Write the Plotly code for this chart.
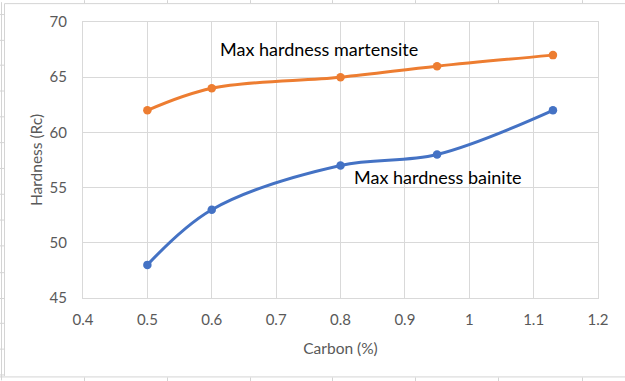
import plotly.graph_objects as go

carbon = [0.5, 0.6, 0.8, 0.95, 1.13]
martensite = [62, 64, 65, 66, 67]
bainite = [48, 53, 57, 58, 62]

x_range = [0.4, 1.2]
y_range = [45, 70]

W, H = 625, 381
L, R, T, B = 83, 27, 20, 83
pw, ph = W - L - R, H - T - B

def px(x):
    return (x - L) / pw

def py(y):
    return (H - B - y) / ph

fig = go.Figure()
fig.add_trace(go.Scatter(x=carbon, y=martensite, mode="lines+markers",
                         line=dict(color="#ED7D31", width=3, shape="spline", smoothing=1),
                         marker=dict(color="#ED7D31", size=8.5), name="martensite"))
fig.add_trace(go.Scatter(x=carbon, y=bainite, mode="lines+markers",
                         line=dict(color="#4472C4", width=3, shape="spline", smoothing=1),
                         marker=dict(color="#4472C4", size=8.5), name="bainite"))

font = "Lato, 'Open Sans', sans-serif"
grid = "#D9D9D9"

shapes = []
sheet = "#D4D4D4"
# chart border
shapes.append(dict(type="line", xref="paper", yref="paper", x0=px(4.5), x1=px(W + 5), y0=py(1.5), y1=py(1.5), line=dict(color=sheet, width=1)))
shapes.append(dict(type="line", xref="paper", yref="paper", x0=px(4.5), x1=px(4.5), y0=py(1.5), y1=py(376.5), line=dict(color=sheet, width=1)))
shapes.append(dict(type="line", xref="paper", yref="paper", x0=px(0), x1=px(W + 5), y0=py(377.5), y1=py(377.5), line=dict(color=sheet, width=1)))
shapes.append(dict(type="line", xref="paper", yref="paper", x0=px(1.5), x1=px(1.5), y0=py(0), y1=py(H), line=dict(color=sheet, width=1)))
for yy in [12, 38, 63, 89, 115, 141, 167, 193, 219, 245, 272, 298, 323, 349, 375]:
    shapes.append(dict(type="line", xref="paper", yref="paper", x0=px(0), x1=px(4), y0=py(yy + 0.5), y1=py(yy + 0.5), line=dict(color=sheet, width=1)))
for xx in [84, 167, 250, 332, 415, 498, 582]:
    shapes.append(dict(type="line", xref="paper", yref="paper", x0=px(xx + 0.5), x1=px(xx + 0.5), y0=py(378), y1=py(H + 2), line=dict(color=sheet, width=1)))
    shapes.append(dict(type="line", xref="paper", yref="paper", x0=px(xx + 0.5), x1=px(xx + 0.5), y0=py(-2), y1=py(1), line=dict(color=sheet, width=1)))

fig.update_layout(
    width=W, height=H, autosize=False,
    margin=dict(l=L, r=R, t=T, b=B, pad=0),
    paper_bgcolor="white", plot_bgcolor="white",
    showlegend=False,
    font=dict(family=font, color="#595959"),
    shapes=shapes,
    xaxis=dict(range=x_range, dtick=0.1, tick0=0.4, showgrid=True, gridcolor=grid, gridwidth=1,
               showline=True, linecolor=grid, linewidth=1, mirror=True, zeroline=False,
               ticks="", ticklabelstandoff=8, tickfont=dict(size=15, color="#595959"),
               title=dict(text="Carbon (%)", font=dict(size=15.5, color="#595959"), standoff=16)),
    yaxis=dict(range=y_range, dtick=5, showgrid=True, gridcolor=grid, gridwidth=1,
               showline=True, linecolor=grid, linewidth=1, mirror=True, zeroline=False,
               ticks="", ticklabelstandoff=12, tickfont=dict(size=15, color="#595959"),
               title=dict(text="Hardness (Rc)", font=dict(size=15.5, color="#595959"), standoff=3)),
    annotations=[
        dict(x=0.766, y=67.57, xref="x", yref="y", text="Max hardness martensite", showarrow=False,
             font=dict(size=18, color="#000000", family=font)),
        dict(x=0.952, y=55.97, xref="x", yref="y", text="Max hardness bainite", showarrow=False,
             font=dict(size=18, color="#000000", family=font)),
    ],
)

fig.write_html("out.html",
               config={"displayModeBar": False},
               post_script="document.body.style.margin='0';document.body.style.padding='0';document.body.style.overflow='hidden';")
